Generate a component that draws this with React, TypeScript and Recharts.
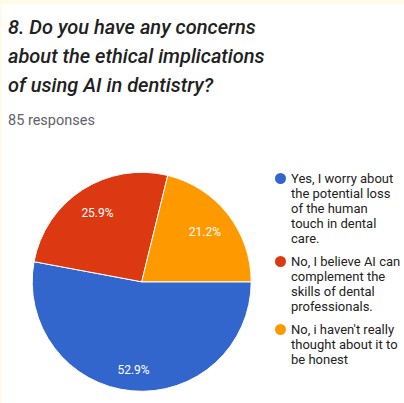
import React from 'react';
import { PieChart, Pie, Cell, Legend } from 'recharts';

const categories = [
  'Yes, I worry about the potential loss of the human touch in dental care.',
  'No, I believe AI can complement the skills of dental professionals.',
  "No, i haven't really thought about it to be honest",
];
const responses = [45, 22, 18];
const colors = ['#3366CC', '#DC3912', '#FF9900'];
const titleLines = [
  '8. Do you have any concerns',
  'about the ethical implications',
  'of using AI in dentistry?',
];
const subtitle = '85 responses';

const data = categories.map((name, i) => ({ name, value: responses[i] }));

const RAD = Math.PI / 180;

const renderLabel = (props: any) => {
  const { cx, cy, midAngle, outerRadius, percent } = props;
  const r = outerRadius * (0.683 + 0.24 * percent);
  const x = cx + r * Math.cos(-midAngle * RAD);
  const y = cy + r * Math.sin(-midAngle * RAD);
  return (
    <text
      x={x}
      y={y}
      fill="#ffffff"
      textAnchor="middle"
      dominantBaseline="central"
      fontSize={12}
      fontFamily="Roboto, Arial, sans-serif"
    >
      {(percent * 100).toFixed(1) + '%'}
    </text>
  );
};

const renderLegend = (props: any) => {
  const payload = [...(props.payload || [])].sort(
    (a: any, b: any) => categories.indexOf(a.value) - categories.indexOf(b.value)
  );
  return (
    <div style={{ fontFamily: 'Roboto, Arial, sans-serif' }}>
      {payload.map((entry: any, i: number) => (
        <div key={i} style={{ position: 'relative', paddingLeft: 18, marginBottom: 8 }}>
          <span
            style={{
              position: 'absolute',
              left: 2,
              top: 2,
              width: 11,
              height: 11,
              borderRadius: '50%',
              background: entry.color,
            }}
          />
          <div style={{ fontSize: 13, lineHeight: '15px', color: '#222222', width: 112 }}>
            {entry.value}
          </div>
        </div>
      ))}
    </div>
  );
};

export default function App() {
  return (
    <div
      style={{
        position: 'absolute',
        left: 0,
        top: 0,
        width: 404,
        height: 403,
        background: '#fffbe8',
        overflow: 'hidden',
      }}
    >
      <div
        style={{
          position: 'absolute',
          left: 2,
          top: 4,
          width: 402,
          height: 399,
          background: '#ffffff',
        }}
      />
      <div
        style={{
          position: 'absolute',
          left: 8,
          top: 12.5,
          fontFamily: 'Roboto, Arial, sans-serif',
          fontStyle: 'italic',
          fontWeight: 500,
          fontSize: 20,
          lineHeight: '29.3px',
          color: '#212121',
          whiteSpace: 'nowrap',
        }}
      >
        {titleLines.map((l, i) => (
          <div key={i}>{l}</div>
        ))}
      </div>
      <div
        style={{
          position: 'absolute',
          left: 8,
          top: 113,
          fontFamily: 'Roboto, Arial, sans-serif',
          fontSize: 14.5,
          lineHeight: '16px',
          color: '#5f6368',
        }}
      >
        {subtitle}
      </div>
      <div style={{ position: 'absolute', left: 0, top: 0 }}>
        <PieChart width={404} height={403} margin={{ top: 0, right: 0, bottom: 0, left: 0 }}>
          <Pie
            data={data}
            dataKey="value"
            nameKey="name"
            cx={141.7}
            cy={281.8}
            outerRadius={109.5}
            startAngle={0}
            endAngle={-360}
            stroke="#ffffff"
            strokeWidth={1}
            label={renderLabel}
            labelLine={false}
            isAnimationActive={false}
          >
            {data.map((d, i) => (
              <Cell key={d.name} fill={colors[i]} />
            ))}
          </Pie>
          <Legend
            content={renderLegend}
            wrapperStyle={{ left: 273, top: 170.5, width: 131, bottom: 'auto', right: 'auto' }}
          />
        </PieChart>
      </div>
    </div>
  );
}
